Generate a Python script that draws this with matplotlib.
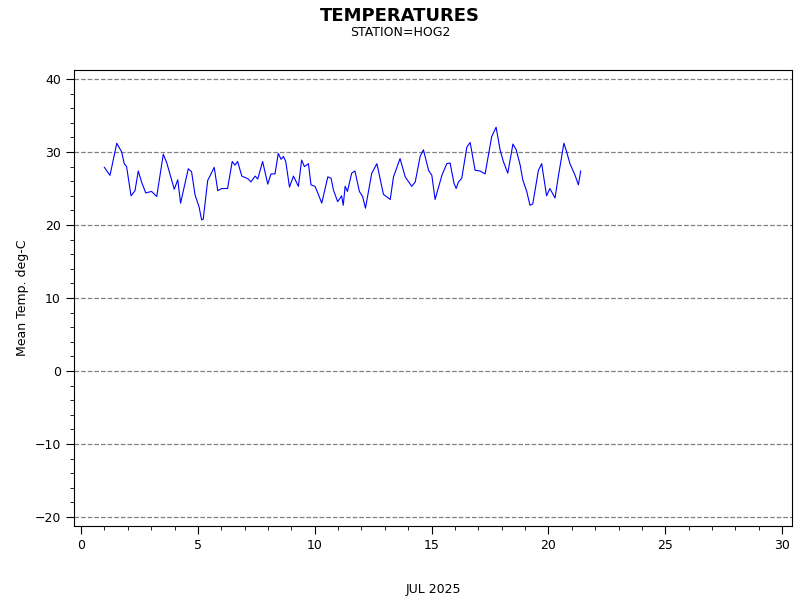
import matplotlib
matplotlib.use('Agg')
import matplotlib.pyplot as plt
from matplotlib.ticker import MultipleLocator

# Day of month (JUL 2025) and mean temperature
days = [1.0, 1.24, 1.53, 1.74, 1.85, 1.95, 2.14, 2.31, 2.45, 2.6, 2.77, 3.02, 3.24,
        3.52, 3.67, 3.99, 4.14, 4.26, 4.59, 4.73, 4.88, 5.05, 5.16, 5.23, 5.42, 5.7,
        5.85, 6.02, 6.27, 6.47, 6.59, 6.7, 6.88, 7.16, 7.27, 7.45, 7.56, 7.77, 7.99,
        8.13, 8.3, 8.44, 8.56, 8.66, 8.76, 8.92, 9.09, 9.3, 9.44, 9.56, 9.73, 9.84,
        10.01, 10.13, 10.3, 10.56, 10.7, 10.8, 10.98, 11.15, 11.22, 11.3, 11.4, 11.58,
        11.72, 11.91, 12.05, 12.17, 12.44, 12.66, 12.94, 13.23, 13.37, 13.65, 13.87,
        14.15, 14.3, 14.51, 14.65, 14.87, 15.01, 15.15, 15.44, 15.65, 15.79, 15.96,
        16.05, 16.15, 16.29, 16.51, 16.65, 16.86, 17.07, 17.29, 17.57, 17.76, 17.93,
        18.07, 18.26, 18.48, 18.62, 18.79, 18.9, 19.07, 19.21, 19.33, 19.57, 19.71,
        19.92, 20.06, 20.28, 20.42, 20.66, 20.78, 20.92, 21.14, 21.28, 21.38]
temps = [27.9, 26.8, 31.2, 30.0, 28.4, 28.0, 24.0, 24.7, 27.4, 25.8, 24.4, 24.6, 23.9,
         29.7, 28.5, 24.9, 26.2, 23.0, 27.7, 27.3, 24.1, 22.5, 20.7, 20.8, 26.1, 27.9,
         24.7, 25.0, 25.0, 28.7, 28.2, 28.7, 26.7, 26.3, 25.9, 26.7, 26.3, 28.7, 25.6,
         27.0, 27.0, 29.8, 29.0, 29.4, 28.7, 25.2, 26.7, 25.3, 28.9, 28.0, 28.4, 25.5,
         25.3, 24.4, 23.0, 26.6, 26.4, 24.8, 23.2, 24.0, 22.7, 25.3, 24.6, 27.1,
         27.4, 24.6, 23.9, 22.3, 27.1, 28.4, 24.2, 23.5, 26.6, 29.1, 26.6,
         25.3, 25.9, 29.4, 30.3, 27.5, 26.8, 23.5, 26.8, 28.4, 28.5, 25.7,
         25.0, 25.9, 26.4, 30.7, 31.3, 27.5, 27.4, 27.0, 32.1, 33.4, 30.3,
         28.7, 27.1, 31.1, 30.3, 28.2, 26.2, 24.6, 22.7, 22.9, 27.5, 28.4,
         24.0, 25.0, 23.7, 26.6, 31.2, 30.0, 28.4, 26.8, 25.5, 27.4]

fig = plt.figure(figsize=(8, 6), dpi=100)
ax = fig.add_axes([0.0925, 0.1233, 0.8975, 0.76])

ax.plot(days, temps, color='blue', linewidth=0.8)

ax.set_xlim(-0.3, 30.42)
ax.set_ylim(-21.23, 41.23)
ax.xaxis.set_major_locator(MultipleLocator(5))
ax.xaxis.set_minor_locator(MultipleLocator(1))
ax.yaxis.set_major_locator(MultipleLocator(10))
ax.yaxis.set_minor_locator(MultipleLocator(2))
ax.tick_params(which='major', length=6, labelsize=9)
ax.tick_params(which='minor', length=3)
ax.grid(axis='y', which='major', linestyle='--', color='gray', linewidth=0.9)

ax.set_xlabel('JUL 2025', fontsize=9, labelpad=22)
ax.set_ylabel('Mean Temp. deg-C', fontsize=9)

fig.text(0.5, 0.965, 'TEMPERATURES', ha='center', fontsize=13, fontweight='bold')
fig.text(0.5, 0.94, 'STATION=HOG2', ha='center', fontsize=9)

fig.savefig('out.png', dpi=100)
